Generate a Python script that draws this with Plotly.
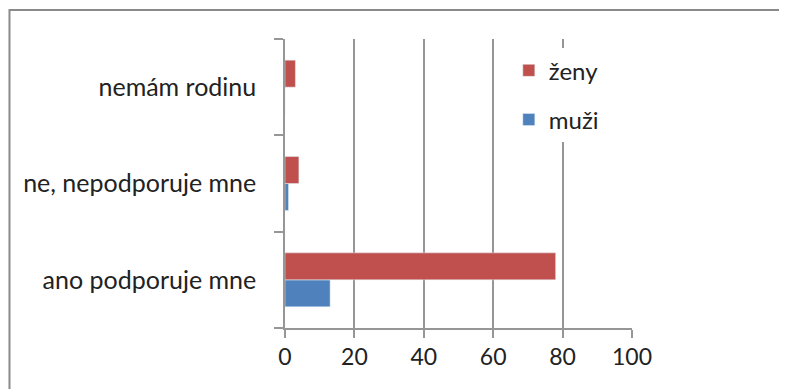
import plotly.graph_objects as go

kategorie = ['ano podporuje mne', 'ne, nepodporuje mne', 'nemám rodinu']
zeny = [78, 4, 3]
muzi = [13, 1, 0]

fig = go.Figure()
fig.add_trace(go.Bar(y=kategorie, x=muzi, name='muži', orientation='h',
                     marker_color='#4F81BD', legendgroup='m', legendrank=2))
fig.add_trace(go.Bar(y=kategorie, x=zeny, name='ženy', orientation='h',
                     marker_color='#C0504D', legendgroup='z', legendrank=1))

osa = '#969696'
fig.update_layout(
    width=787, height=389,
    margin=dict(l=277, r=163, t=31, b=69, autoexpand=False),
    plot_bgcolor='white', paper_bgcolor='white',
    font=dict(family='Lato', size=24, color='#222'),
    barmode='group', bargap=0.44, bargroupgap=0,
    legend=dict(x=0.645, y=0.968, xanchor='left', yanchor='top',
                traceorder='grouped', tracegroupgap=15,
                bgcolor='white', font=dict(size=24)),
    xaxis=dict(range=[0, 100], dtick=20, showgrid=True, gridcolor=osa, gridwidth=1.5,
               showline=True, linecolor=osa, linewidth=1.5, ticks='outside',
               ticklen=8, tickcolor=osa, tickwidth=1.5, zeroline=False,
               automargin=False, tickfont=dict(size=23)),
    yaxis=dict(showline=True, linecolor=osa, linewidth=1.5, ticks='outside',
               tickson='boundaries', ticklen=9, tickcolor=osa, tickwidth=1.5,
               automargin=False, ticklabelstandoff=22, showgrid=False,
               tickfont=dict(size=25)),
    shapes=[dict(type='rect', xref='paper', yref='paper', x0=-0.794, x1=1.6,
                 y0=-0.4, y1=1.1, line=dict(color='#8a8a8a', width=2))],
)

fig.write_html('out.html')
